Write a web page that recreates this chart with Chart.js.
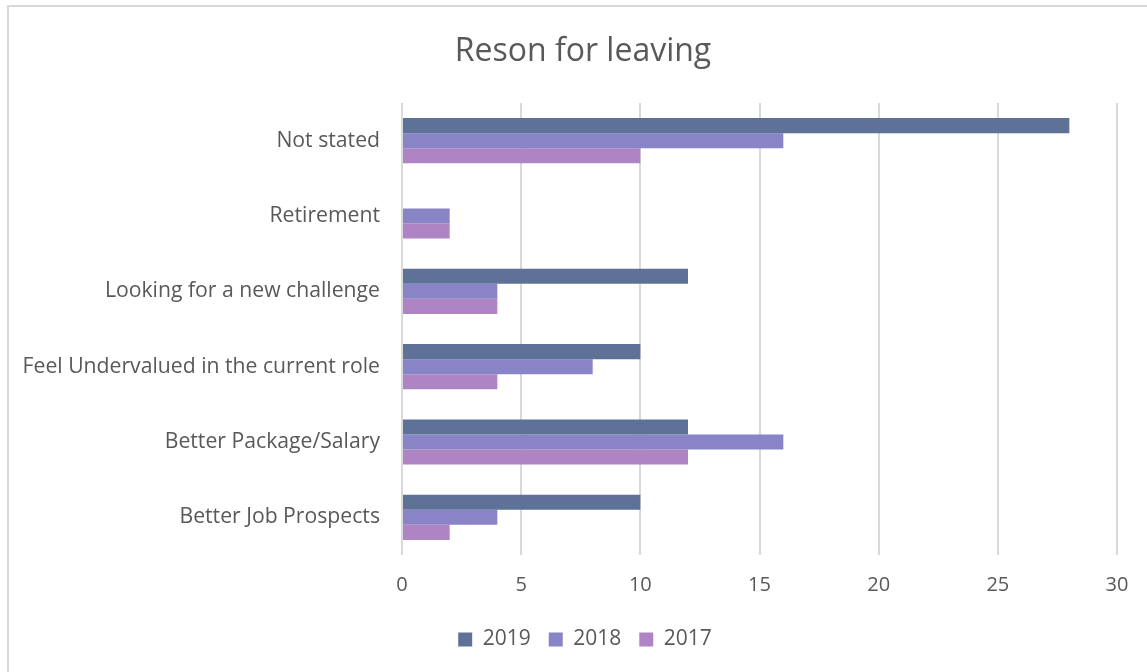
<!DOCTYPE html>
<html>
<head>
<meta charset="utf-8">
<script src="https://cdn.jsdelivr.net/npm/chart.js@4.4.1/dist/chart.umd.min.js"></script>
<style>
html,body{margin:0;padding:0;background:#fff;}
#frame{position:absolute;left:7px;top:5px;width:1140px;height:667px;border-left:2px solid #d9d9d9;border-top:2px solid #d9d9d9;box-sizing:border-box;}
#wrap{position:absolute;left:0;top:0;width:1147px;height:672px;}
</style>
</head>
<body>
<div id="frame"></div>
<div id="wrap"><canvas id="c" width="1147" height="672"></canvas></div>
<script>
const categories = ["Not stated","Retirement","Looking for a new challenge","Feel Undervalued in the current role","Better Package/Salary","Better Job Prospects"];
const seriesNames = ["2019","2018","2017"];
const values2019 = [28, 0, 12, 10, 12, 10];
const values2018 = [16, 2, 4, 8, 16, 4];
const values2017 = [10, 2, 4, 4, 12, 2];
const xTicks = [0, 5, 10, 15, 20, 25, 30];
const colors = ["#5e7297", "#8884c6", "#ae84c4"];

const FONT = "'Open Sans', 'Liberation Sans', sans-serif";
const TXT = "#595959";

// shift title/legend centring to match the reference (centre ~585px)
const recentre = {
  id: 'recentre',
  afterLayout(chart) {
    if (chart.titleBlock) chart.titleBlock.left = 49;
    if (chart.legend) chart.legend.left = 53;
  }
};

new Chart(document.getElementById('c'), {
  type: 'bar',
  data: {
    labels: categories,
    datasets: [values2019, values2018, values2017].map((d, i) => ({
      label: seriesNames[i],
      data: d,
      backgroundColor: colors[i],
      borderWidth: 0,
      categoryPercentage: 0.6,
      barPercentage: 1.0
    }))
  },
  plugins: [recentre],
  options: {
    indexAxis: 'y',
    responsive: false,
    animation: false,
    layout: { padding: { left: 10, right: 30, top: 0, bottom: 12 } },
    plugins: {
      title: {
        display: true,
        text: 'Reson for leaving',
        color: TXT,
        font: { family: FONT, size: 32, weight: 'normal' },
        padding: { top: 33, bottom: 31.6 }
      },
      legend: {
        position: 'bottom',
        labels: {
          color: TXT,
          font: { family: FONT, size: 21 },
          boxWidth: 14, boxHeight: 14,
          padding: 18,
          useBorderRadius: false
        }
      },
      tooltip: { enabled: false }
    },
    scales: {
      x: {
        min: 0, max: 30,
        afterBuildTicks: (ax) => { ax.ticks = xTicks.map(v => ({ value: v })); },
        grid: { color: '#d9d9d9', lineWidth: 2, drawTicks: false },
        border: { display: false },
        ticks: { color: TXT, font: { family: FONT, size: 20 }, padding: 18 },
        afterFit: (ax) => { ax.height = 56; }
      },
      y: {
        grid: { display: false, drawTicks: false },
        border: { display: false },
        ticks: { color: TXT, font: { family: FONT, size: 21.2 }, padding: 22 },
        afterFit: (ax) => { ax.width = 392; }
      }
    }
  }
});
</script>
</body>
</html>
